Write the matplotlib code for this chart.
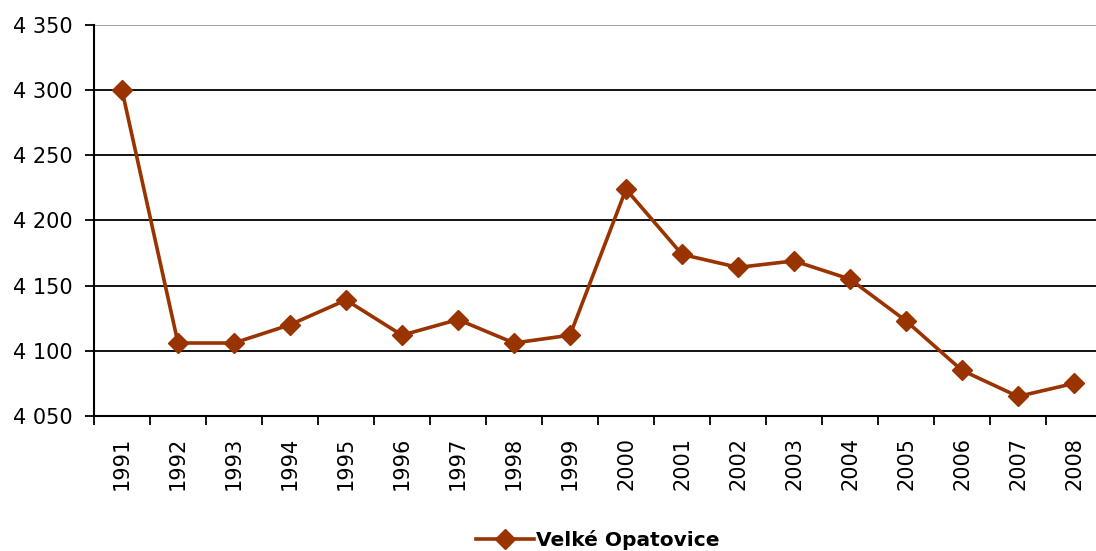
import matplotlib
matplotlib.use("Agg")
import matplotlib.pyplot as plt
from matplotlib.ticker import FuncFormatter, FixedLocator

years = ["1991", "1992", "1993", "1994", "1995", "1996", "1997", "1998", "1999",
         "2000", "2001", "2002", "2003", "2004", "2005", "2006", "2007", "2008"]
population = [4300, 4106, 4106, 4120, 4139, 4112, 4124, 4106, 4112,
              4224, 4174, 4164, 4169, 4155, 4123, 4085, 4065, 4075]
series_name = "Velké Opatovice"
y_ticks = [4050, 4100, 4150, 4200, 4250, 4300, 4350]

plt.rcParams['font.family'] = ['DejaVu Sans']
W, H = 1096, 551
fig = plt.figure(figsize=(W / 100, H / 100), dpi=100)
ax = fig.add_axes([94 / W, 135 / H, 1008 / W, 391 / H])

color = "#993300"
x = list(range(len(years)))
line, = ax.plot(x, population, color=color, lw=2.6, marker="D", markersize=10.5,
                markeredgecolor=color, markerfacecolor=color, label=series_name,
                zorder=3, clip_on=False)

ax.set_xlim(-0.5, len(years) - 0.5)
ax.set_ylim(4050, 4350)
ax.set_yticks(y_ticks)
ax.yaxis.set_major_formatter(FuncFormatter(lambda v, p: f"{int(v):,}".replace(",", " ")))
for v in y_ticks[1:]:
    ax.axhline(v, color="#999999" if v == 4350 else "black", lw=1.3, zorder=1)

ax.set_xticks(x)
ax.set_xticklabels(years, rotation=90)
ax.xaxis.set_minor_locator(FixedLocator([i - 0.5 for i in range(len(years) + 1)]))
ax.tick_params(axis="x", which="major", length=0, pad=15, labelsize=15)
ax.tick_params(axis="x", which="minor", length=6.5, width=1.3, direction="out")
ax.tick_params(axis="y", length=6.5, width=1.3, direction="out", labelsize=15, pad=9)

for s in ["top", "right"]:
    ax.spines[s].set_visible(False)
for s in ["left", "bottom"]:
    ax.spines[s].set_linewidth(1.5)
    ax.spines[s].set_color("black")

fig.legend(handles=[line], loc="center", bbox_to_anchor=(598 / W, 1 - 540 / H),
           frameon=False, prop={"weight": "bold", "size": 14.5}, handlelength=2.9,
           handletextpad=0.1)

fig.savefig("out.png", dpi=100)
